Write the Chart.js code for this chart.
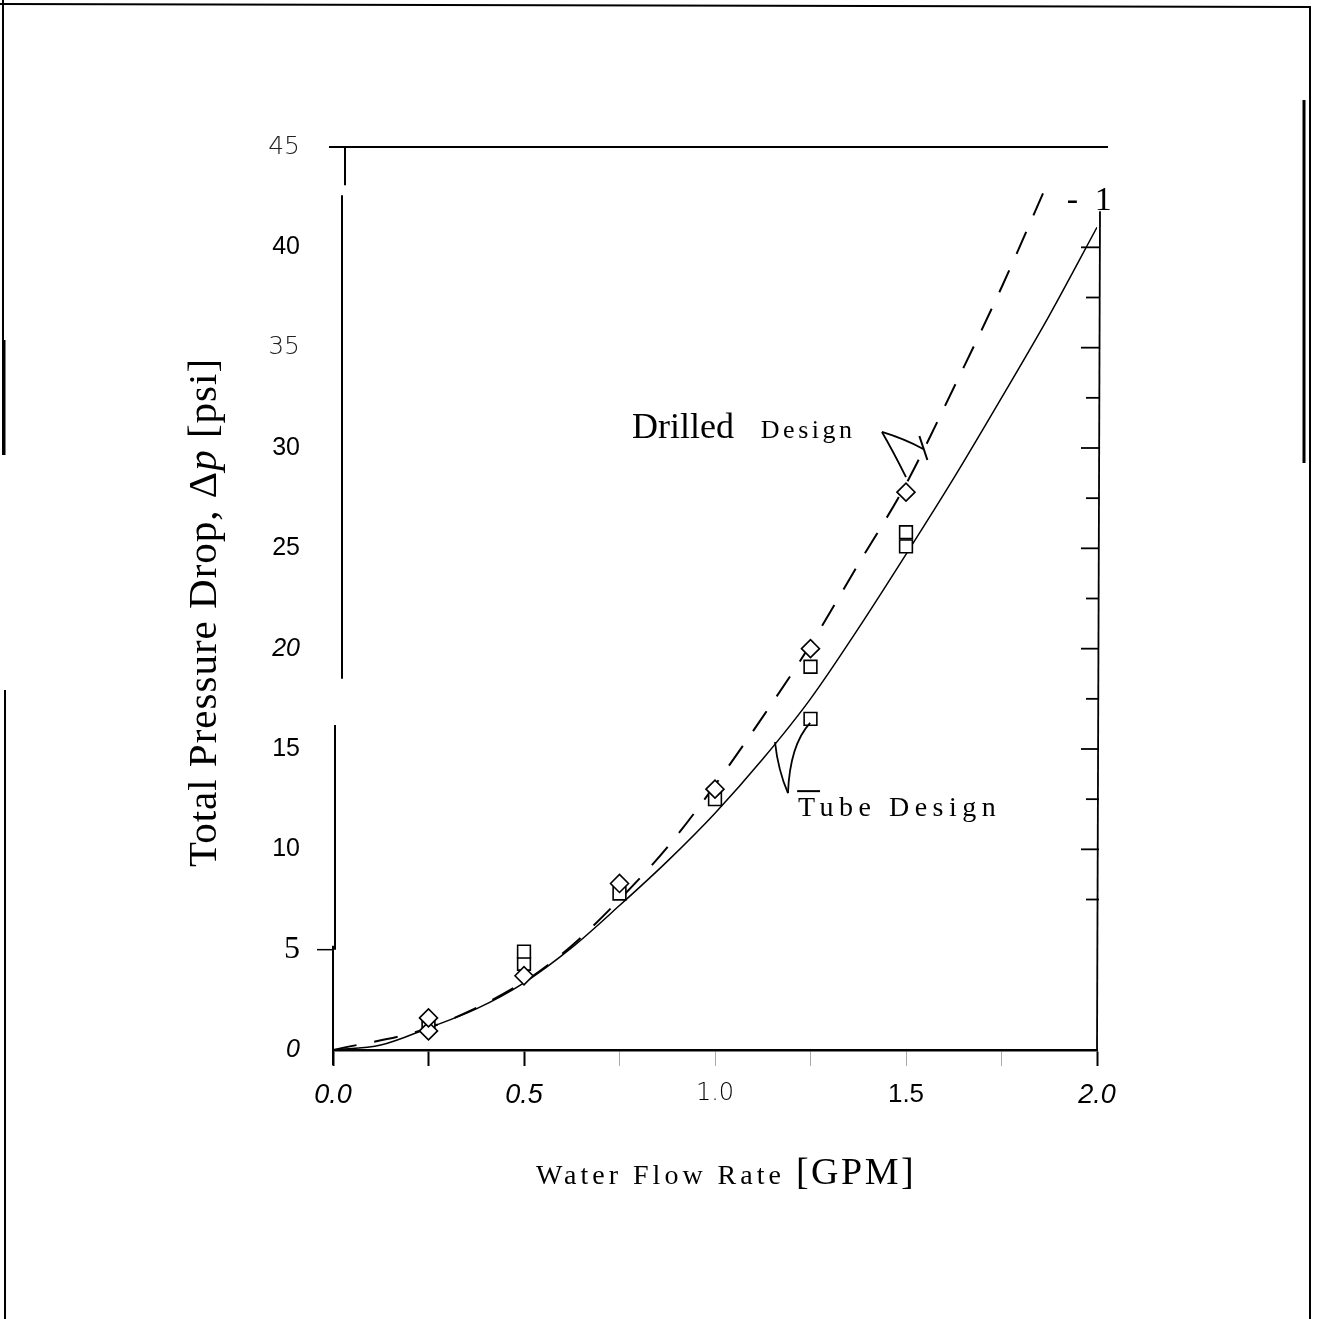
<!DOCTYPE html>
<html>
<head>
<meta charset="utf-8">
<title>Total Pressure Drop vs Water Flow Rate</title>
<script src="https://cdn.jsdelivr.net/npm/chart.js@4.4.1/dist/chart.umd.min.js"></script>
<style>
  html, body { margin: 0; padding: 0; background: #fff; }
  #wrap { width: 1324px; height: 1319px; }
</style>
</head>
<body>
<div id="wrap"><canvas id="pressureChart" width="1324" height="1319"></canvas></div>
<script>
// values
const flowTicks = [0, 0.5, 1.0, 1.5, 2.0];
const flowTickLabels = ["0.0", "0.5", "1.0", "1.5", "2.0"];
const dropTicks = [0, 5, 10, 15, 20, 25, 30, 35, 40, 45];
const dropTickLabels = ["0", "5", "10", "15", "20", "25", "30", "35", "40", "45"];

// measured points [GPM] / [psi]
const testFlow = [0.25, 0.5, 0.75, 1.0, 1.25, 1.5];
const squareDropA = [1.35, 4.9, 7.8, 12.5, 19.1, 25.8];
const squareDropB = [null, 4.3, null, null, 16.5, 25.1];
const diamondDropA = [1.6, 3.7, 8.3, 13.0, 20.0, 27.8];
const diamondDropB = [0.95, null, null, null, null, null];
const triangleDrop = [1.15, 4.1, 8.0, 12.7, null, null];

// model curves
const tubeFlow = [0, 0.125, 0.25, 0.375, 0.5, 0.625, 0.75, 0.875, 1.0, 1.125, 1.25, 1.375, 1.5, 1.625, 1.75, 1.875, 2.0];
const tubeDrop = [0, 0.25, 1.1, 2.05, 3.35, 5.1, 7.2, 9.4, 11.8, 14.5, 17.5, 21.0, 24.7, 28.5, 32.5, 36.6, 41.0];
const drilledFlow = [0, 0.25, 0.5, 0.625, 0.75, 0.875, 1.0, 1.125, 1.25, 1.375, 1.5, 1.625, 1.75, 1.875];
const drilledDrop = [0, 1.1, 3.4, 5.2, 7.5, 10.1, 13.2, 16.6, 20.2, 24.2, 28.2, 33.0, 38.0, 43.4];

const toPoints = (xs, ys) => xs.map((x, i) => ({ x: x, y: ys[i] })).filter(p => p.y !== null);

const SERIF = "'Liberation Serif', 'Times New Roman', serif";
const SANS = "'Liberation Sans', Arial, sans-serif";

// the scan mixes several typefaces in the tick labels
const thinFont = { family: "'DejaVu Sans', sans-serif", size: 25, weight: 200 };
const plainFont = { family: SANS, size: 25 };
const italicFont = { family: SANS, size: 25, style: "italic" };
const bigItalicFont = { family: SANS, size: 27, style: "italic" };
const yTickFont = { 45: thinFont, 40: plainFont, 35: thinFont, 30: plainFont, 25: plainFont,
  20: italicFont, 15: plainFont, 10: plainFont, 5: { family: SERIF, size: 32 }, 0: italicFont };
const xTickFont = { 0: bigItalicFont, 0.5: bigItalicFont, 1: { family: "'DejaVu Sans', sans-serif", size: 24, weight: 200 },
  1.5: { family: SANS, size: 26 }, 2: bigItalicFont };
const darkFlowTicks = [0, 0.25, 0.5, 2];

// annotation leaders, in data units
const leaders = [
  { from: [1.437, 30.8], ctrl: [1.497, 30.45], to: [1.545, 29.95] },
  { from: [1.437, 30.8], ctrl: [1.466, 29.85], to: [1.5, 28.55] },
  { from: [1.191, 12.8], ctrl: [1.165, 13.95], to: [1.157, 15.35] },
  { from: [1.191, 12.8], ctrl: [1.196, 15.2], to: [1.249, 16.3] }
];
const ticksOnLeaders = [
  { from: [1.535, 30.6], to: [1.556, 29.4] },
  { from: [1.215, 12.9], to: [1.275, 12.9] }
];
const notes = [
  { text: "Drilled", at: [0.783, 30.5], font: "36px " + SERIF, spacing: 0 },
  { text: "Design", at: [1.12, 30.5], font: "26px " + SERIF, spacing: 3.5 },
  { text: "Tube Design", at: [1.217, 11.65], font: "28px " + SERIF, spacing: 5.5 },
  { text: "- 1", at: [1.921, 41.85], font: "34px " + SERIF, spacing: 4 }
];
// left axis of the scan is drawn in offset pieces
const leftAxisPieces = [
  { dx: 12, from: 45, to: 43.1 },
  { dx: 9, from: 42.6, to: 18.5 },
  { dx: 2, from: 16.2, to: 5.0 },
  { dx: 0, from: 5.2, to: -0.75 }
];

function drawText(ctx, text, x, y, font, spacing) {
  ctx.font = font;
  const hasSpacing = "letterSpacing" in ctx;
  if (hasSpacing) ctx.letterSpacing = (spacing || 0) + "px";
  ctx.fillText(text, x, y);
  const w = ctx.measureText(text).width;
  if (hasSpacing) ctx.letterSpacing = "0px";
  return w;
}

function seg(ctx, x1, y1, x2, y2, w) {
  ctx.lineWidth = w;
  ctx.beginPath();
  ctx.moveTo(x1, y1);
  ctx.lineTo(x2, y2);
  ctx.stroke();
}

const tickValue = c => (c && c.tick ? c.tick.value : null);

const scanDecor = {
  id: "scanDecor",
  afterDraw(chart) {
    const ctx = chart.ctx;
    const area = chart.chartArea;
    const xs = chart.scales.x;
    const ys = chart.scales.y;
    const px = v => xs.getPixelForValue(v);
    const py = v => ys.getPixelForValue(v);

    ctx.save();
    ctx.strokeStyle = "#000";
    ctx.fillStyle = "#000";

    // page frame from the scan
    seg(ctx, 0, 4, 1310, 7, 2);
    seg(ctx, 3, 0, 3, 455, 2);
    seg(ctx, 4, 340, 4, 455, 3);
    seg(ctx, 5, 690, 5, 1319, 2);
    seg(ctx, 1310, 6, 1310, 1319, 2);
    seg(ctx, 1304, 100, 1304, 463, 3);

    // top line and left axis pieces
    seg(ctx, area.left - 4, area.top, area.right + 11, area.top, 2);
    leftAxisPieces.forEach(p => seg(ctx, area.left + p.dx, py(p.from), area.left + p.dx, py(p.to), 2));
    seg(ctx, area.left - 16, py(5), area.left, py(5), 1.5);

    // right axis with inward ticks
    seg(ctx, area.right + 3, py(41.8), area.right, area.bottom, 1.8);
    for (let v = 7.5, k = 0; v <= 40; v += 2.5, k++) {
      const len = k % 2 === 0 ? 13 : 18;
      seg(ctx, area.right + 2 - len, py(v), area.right + 2, py(v), 1.8);
    }

    // leaders
    ctx.lineWidth = 1.8;
    leaders.forEach(l => {
      ctx.beginPath();
      ctx.moveTo(px(l.from[0]), py(l.from[1]));
      ctx.quadraticCurveTo(px(l.ctrl[0]), py(l.ctrl[1]), px(l.to[0]), py(l.to[1]));
      ctx.stroke();
    });
    ticksOnLeaders.forEach(t => seg(ctx, px(t.from[0]), py(t.from[1]), px(t.to[0]), py(t.to[1]), 2));

    // notes
    ctx.textBaseline = "alphabetic";
    ctx.textAlign = "left";
    notes.forEach(n => drawText(ctx, n.text, px(n.at[0]), py(n.at[1]), n.font, n.spacing));

    // y axis title with italic p
    ctx.save();
    ctx.translate(area.left - 117, (area.top + area.bottom) / 2 + 14);
    ctx.rotate(-Math.PI / 2);
    const parts = [
      { t: "Total Pressure Drop, \u0394", f: "41px " + SERIF },
      { t: "p", f: "italic 41px " + SERIF },
      { t: " [psi]", f: "41px " + SERIF }
    ];
    let total = 0;
    parts.forEach(p => { ctx.font = p.f; if ("letterSpacing" in ctx) ctx.letterSpacing = "1px"; p.w = ctx.measureText(p.t).width; total += p.w; });
    let cx = -total / 2;
    parts.forEach(p => { drawText(ctx, p.t, cx, 0, p.f, 1); cx += p.w; });
    ctx.restore();

    // x axis title
    const xParts = [
      { t: "Water Flow Rate ", f: "28px " + SERIF, s: 4 },
      { t: "[GPM]", f: "38px " + SERIF, s: 2.5 }
    ];
    let xTotal = 0;
    xParts.forEach(p => { ctx.font = p.f; if ("letterSpacing" in ctx) ctx.letterSpacing = p.s + "px"; p.w = ctx.measureText(p.t).width; xTotal += p.w; });
    if ("letterSpacing" in ctx) ctx.letterSpacing = "0px";
    let tx = (area.left + area.right) / 2 + 11 - xTotal / 2;
    const ty = area.bottom + 134;
    xParts.forEach(p => { drawText(ctx, p.t, tx, ty, p.f, p.s); tx += p.w; });

    ctx.restore();
  }
};

Chart.defaults.color = "#000";

new Chart(document.getElementById("pressureChart"), {
  type: "scatter",
  data: {
    datasets: [
      { label: "Drilled data", data: toPoints(testFlow, diamondDropA), pointStyle: "rectRot", pointRadius: 9,
        pointBackgroundColor: "#fff", pointBorderColor: "#000", pointBorderWidth: 1.6 },
      { label: "Drilled data, repeat", data: toPoints(testFlow, diamondDropB), pointStyle: "rectRot", pointRadius: 9,
        pointBackgroundColor: "#fff", pointBorderColor: "#000", pointBorderWidth: 1.6 },
      { label: "Tube data", data: toPoints(testFlow, squareDropA), pointStyle: "rect", pointRadius: 9,
        pointBackgroundColor: "#fff", pointBorderColor: "#000", pointBorderWidth: 1.6 },
      { label: "Tube data, repeat", data: toPoints(testFlow, squareDropB), pointStyle: "rect", pointRadius: 9,
        pointBackgroundColor: "#fff", pointBorderColor: "#000", pointBorderWidth: 1.6 },
      { label: "Third run", data: toPoints(testFlow, triangleDrop), pointStyle: "triangle", pointRotation: 180, pointRadius: 6.5,
        pointBackgroundColor: "#fff", pointBorderColor: "#000", pointBorderWidth: 1.6 },
      { label: "Drilled Design", data: toPoints(drilledFlow, drilledDrop), showLine: true, pointRadius: 0,
        borderColor: "#000", borderWidth: 2, borderDash: [24, 18], cubicInterpolationMode: "monotone" },
      { label: "Tube Design", data: toPoints(tubeFlow, tubeDrop), showLine: true, pointRadius: 0,
        borderColor: "#000", borderWidth: 1.5, cubicInterpolationMode: "monotone" }
    ]
  },
  options: {
    responsive: false,
    animation: false,
    devicePixelRatio: 1,
    layout: { padding: { left: 0, top: 147, right: 227, bottom: 0 } },
    plugins: { legend: { display: false }, tooltip: { enabled: false } },
    scales: {
      x: {
        type: "linear", min: 0, max: 2,
        afterFit: s => { s.height = 269; },
        ticks: {
          stepSize: 0.25, autoSkip: false, maxRotation: 0, padding: 13,
          callback: v => { const i = flowTicks.indexOf(v); return i >= 0 ? flowTickLabels[i] : ""; },
          font: c => xTickFont[tickValue(c)] || plainFont
        },
        grid: {
          drawOnChartArea: false, tickLength: 16,
          tickColor: c => (darkFlowTicks.includes(tickValue(c)) ? "#000" : "#aaa"),
          tickWidth: c => (darkFlowTicks.includes(tickValue(c)) ? 2 : 1)
        },
        border: { color: "#000", width: 2.5 }
      },
      y: {
        type: "linear", min: 0, max: 45,
        afterFit: s => { s.width = 333; },
        ticks: {
          stepSize: 5, padding: 33,
          callback: v => { const i = dropTicks.indexOf(v); return i >= 0 ? dropTickLabels[i] : ""; },
          font: c => yTickFont[tickValue(c)] || plainFont,
          color: c => (tickValue(c) === 45 || tickValue(c) === 35 ? "#222" : "#000")
        },
        grid: { display: false, drawTicks: false },
        border: { display: false }
      }
    }
  },
  plugins: [scanDecor]
});
</script>
</body>
</html>
